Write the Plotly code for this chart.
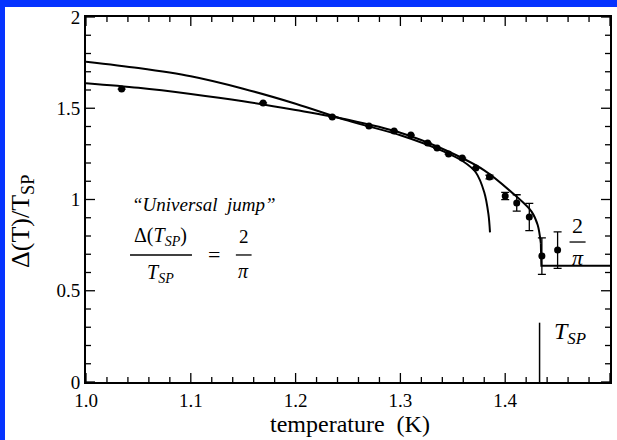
import plotly.graph_objects as go

# ---- data ----
T_data = [1.034, 1.169, 1.235, 1.270, 1.294, 1.310, 1.326, 1.335, 1.346, 1.359,
          1.372, 1.385, 1.400, 1.411, 1.423, 1.435, 1.450]
D_data = [1.605, 1.529, 1.452, 1.403, 1.375, 1.353, 1.310, 1.282, 1.249, 1.227,
          1.173, 1.123, 1.019, 0.981, 0.904, 0.690, 0.723]
D_err = [0, 0, 0, 0, 0, 0, 0, 0, 0, 0, 0, 0.01, 0.02, 0.045, 0.075, 0.10, 0.10]

# fit curve A (mean-field like, ends at ~1.3855 K)
T_curveA = [1.000, 1.050, 1.100, 1.150, 1.200, 1.250, 1.300, 1.340,
            1.360, 1.372, 1.380, 1.384, 1.3855]
D_curveA = [1.755, 1.720, 1.675, 1.607, 1.525, 1.432, 1.352, 1.266,
            1.208, 1.148, 1.040, 0.920, 0.820]

# fit curve B (KT-like), smooth part
T_curveB = [1.000, 1.050, 1.100, 1.150, 1.200, 1.250, 1.300, 1.340,
            1.380, 1.410, 1.425, 1.431, 1.4340]
D_curveB = [1.637, 1.612, 1.578, 1.538, 1.490, 1.437, 1.366, 1.278,
            1.160, 1.020, 0.935, 0.860, 0.760]
# jump to 2/pi at T_SP and plateau
T_jump = [1.4340, 1.4345, 1.500]
D_jump = [0.760, 0.637, 0.637]

T_SP = 1.4328
T_SP_line_y = [0.0, 0.325]

# axis ticks
X_RANGE = [1.0, 1.5]
Y_RANGE = [0.0, 2.0]
x_major = [1.0, 1.1, 1.2, 1.3, 1.4, 1.5]
x_minor = [round(1.0 + 0.02 * k, 3) for k in range(26) if k % 5 != 0]
y_major = [0.0, 0.5, 1.0, 1.5, 2.0]
y_minor = [round(0.1 * k, 2) for k in range(21) if k % 5 != 0]

SERIF = "Liberation Serif, Times New Roman, serif"

W, H = 617, 440
L, R, TOP, B = 86, 7, 17, 58
pw, ph = W - L - R, H - TOP - B
x_per_px = (X_RANGE[1] - X_RANGE[0]) / pw
y_per_px = (Y_RANGE[1] - Y_RANGE[0]) / ph


def px(xp):
    return (xp - L) / pw


def py(yp):
    return (H - B - yp) / ph


def tick_path(xs_major, xs_minor, ys_major, ys_minor, major_len, minor_len):
    tx, ty = [], []
    for vals, ln in ((xs_major, major_len), (xs_minor, minor_len)):
        dy = ln * y_per_px
        for v in vals:
            tx += [v, v, None, v, v, None]
            ty += [Y_RANGE[0], Y_RANGE[0] + dy, None, Y_RANGE[1], Y_RANGE[1] - dy, None]
    for vals, ln in ((ys_major, major_len), (ys_minor, minor_len)):
        dx = ln * x_per_px
        for v in vals:
            tx += [X_RANGE[0], X_RANGE[0] + dx, None, X_RANGE[1], X_RANGE[1] - dx, None]
            ty += [v, v, None, v, v, None]
    return tx, ty


fig = go.Figure()
tx, ty = tick_path(x_major, x_minor, y_major, y_minor, 9, 5)
fig.add_trace(go.Scatter(x=tx, y=ty, mode="lines", connectgaps=False,
                         line=dict(color="black", width=1.3), hoverinfo="skip"))
fig.add_trace(go.Scatter(x=T_curveA, y=D_curveA, mode="lines",
                         line=dict(color="black", width=2, shape="spline", smoothing=0.9)))
fig.add_trace(go.Scatter(x=T_curveB, y=D_curveB, mode="lines",
                         line=dict(color="black", width=2, shape="spline", smoothing=0.9)))
fig.add_trace(go.Scatter(x=T_jump, y=D_jump, mode="lines",
                         line=dict(color="black", width=2)))
fig.add_trace(go.Scatter(x=[T_SP, T_SP], y=T_SP_line_y, mode="lines",
                         line=dict(color="black", width=1.5)))
fig.add_trace(go.Scatter(x=T_data, y=D_data, mode="markers",
                         marker=dict(color="black", size=7),
                         error_y=dict(type="data", array=D_err, visible=True,
                                      color="black", thickness=1.3, width=4)))

BLUE = "#0533ff"
shapes = [
    # blue border strips (top and left)
    dict(type="rect", xref="paper", yref="paper", x0=px(-5), x1=px(W + 5),
         y0=py(7), y1=py(-5), fillcolor=BLUE, line=dict(width=0)),
    dict(type="rect", xref="paper", yref="paper", x0=px(-5), x1=px(5),
         y0=py(H + 5), y1=py(-5), fillcolor=BLUE, line=dict(width=0)),
    # fraction bars
    dict(type="line", xref="x", yref="y", x0=1.042, x1=1.1011, y0=0.696, y1=0.696,
         line=dict(color="black", width=1.3)),
    dict(type="line", xref="x", yref="y", x0=1.143, x1=1.158, y0=0.696, y1=0.696,
         line=dict(color="black", width=1.3)),
    dict(type="line", xref="x", yref="y", x0=1.4614, x1=1.4767, y0=0.767, y1=0.767,
         line=dict(color="black", width=1.3)),
]

ann = []


def add(text, x, y, size):
    ann.append(dict(text=text, x=x, y=y, xref="x", yref="y", showarrow=False,
                    font=dict(family=SERIF, size=size, color="black"),
                    xanchor="center", yanchor="middle"))


add("<i>\u201cUniversal\u00a0\u00a0jump\u201d</i>", 1.1125, 0.970, 19)
add("\u0394(<i>T<sub>SP</sub></i>)", 1.0715, 0.800, 20)
add("<i>T<sub>SP</sub></i>", 1.0715, 0.597, 20)
add("=", 1.122, 0.696, 22)
add("2", 1.1506, 0.795, 19)
add("<i>\u03c0</i>", 1.1506, 0.610, 20)
add("2", 1.469, 0.860, 22)
add("<i>\u03c0</i>", 1.469, 0.680, 22)
add("<i>T<sub>SP</sub></i>", 1.4615, 0.268, 24)

# axis titles as annotations
ann.append(dict(text="temperature\u00a0\u00a0(K)", x=px(350), y=py(424),
                xref="paper", yref="paper", showarrow=False,
                xanchor="center", yanchor="middle",
                font=dict(family=SERIF, size=24, color="black")))
ann.append(dict(text="\u0394(T)/T<sub>SP</sub>", x=px(22), y=py(222),
                xref="paper", yref="paper", showarrow=False, textangle=-90,
                xanchor="center", yanchor="middle",
                font=dict(family=SERIF, size=26, color="black")))

fig.update_layout(
    template="none",
    width=W, height=H,
    margin=dict(l=L, r=R, t=TOP, b=B),
    paper_bgcolor="white",
    plot_bgcolor="rgba(0,0,0,0)",
    shapes=shapes,
    annotations=ann,
    showlegend=False,
)
fig.update_xaxes(range=X_RANGE, tickmode="array", tickvals=x_major,
                 ticktext=[f"{v:.1f}" for v in x_major], ticks="",
                 showline=True, linecolor="black", linewidth=2, mirror=True,
                 showgrid=False, zeroline=False,
                 tickfont=dict(family=SERIF, size=19, color="black"))
fig.update_yaxes(range=Y_RANGE, tickmode="array", tickvals=y_major,
                 ticktext=["0", "0.5", "1", "1.5", "2"], ticks="",
                 showline=True, linecolor="black", linewidth=2, mirror=True,
                 showgrid=False, zeroline=False,
                 tickfont=dict(family=SERIF, size=19, color="black"))

fig.write_html("out.html")
